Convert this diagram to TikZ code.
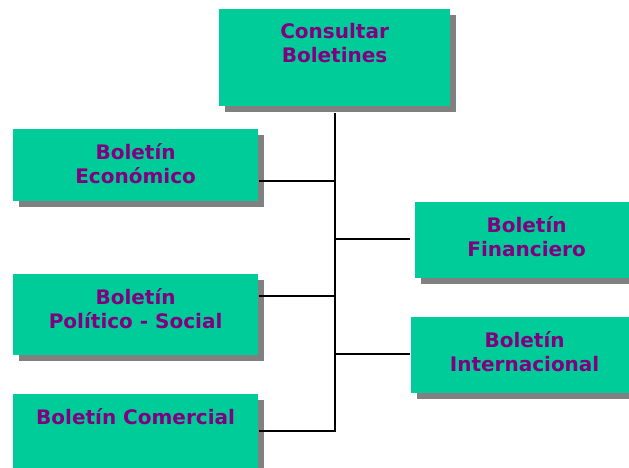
\documentclass[tikz,border=0pt]{standalone}
\usepackage{fontspec}
\setmainfont{DejaVu Sans}
\usetikzlibrary{shadows}
\definecolor{verdecaja}{RGB}{0,204,153}
\definecolor{morado}{RGB}{128,0,128}
\definecolor{sombra}{RGB}{128,128,128}

\begin{document}
\begin{tikzpicture}[x=1pt,y=-1pt,line width=2.2pt]
  \tikzstyle{caja}=[rectangle,fill=verdecaja,draw=none,anchor=north west,inner sep=0pt,
    drop shadow={shadow xshift=6pt,shadow yshift=-6pt,fill=sombra,opacity=1}]
  \tikzstyle{texto}=[anchor=north,yshift=-14pt,align=center,inner sep=0pt,text=morado,
    font=\bfseries\fontsize{20}{24.5}\selectfont]
\useasboundingbox (0,0) rectangle (629,468);
\node[caja,minimum width=231pt,minimum height=97pt,label={[texto]north:Consultar\\Boletines}] (consultar) at (218,8) {};
\node[caja,minimum width=245pt,minimum height=72pt,label={[texto]north:Boletín\\Económico}] (economico) at (12,128) {};
\node[caja,minimum width=223pt,minimum height=76pt,label={[texto]north:Boletín\\Financiero}] (financiero) at (414,201) {};
\node[caja,minimum width=245pt,minimum height=81pt,label={[texto]north:Boletín\\Político - Social}] (politico) at (12,273) {};
\node[caja,minimum width=227pt,minimum height=76pt,label={[texto]north:Boletín\\Internacional}] (internacional) at (410,316) {};
\node[caja,minimum width=245pt,minimum height=76pt,label={[texto]north:Boletín Comercial}] (comercial) at (12,393) {};
\coordinate (jEcon) at (consultar.south |- 0,181);
\coordinate (jFin) at (consultar.south |- 0,239);
\coordinate (jPol) at (consultar.south |- 0,296);
\coordinate (jInter) at (consultar.south |- 0,354);
\coordinate (jCom) at (consultar.south |- 0,431);
\draw (comercial.east |- jCom) -- (jCom) -- ([yshift=-6pt]consultar.south);
\draw (economico.east |- jEcon) -- (jEcon);
\draw (politico.east |- jPol) -- (jPol);
\draw[shorten >=4pt] (jFin) -- (jFin -| financiero.west);
\draw (jInter) -- (jInter -| internacional.west);
\end{tikzpicture}
\end{document}
